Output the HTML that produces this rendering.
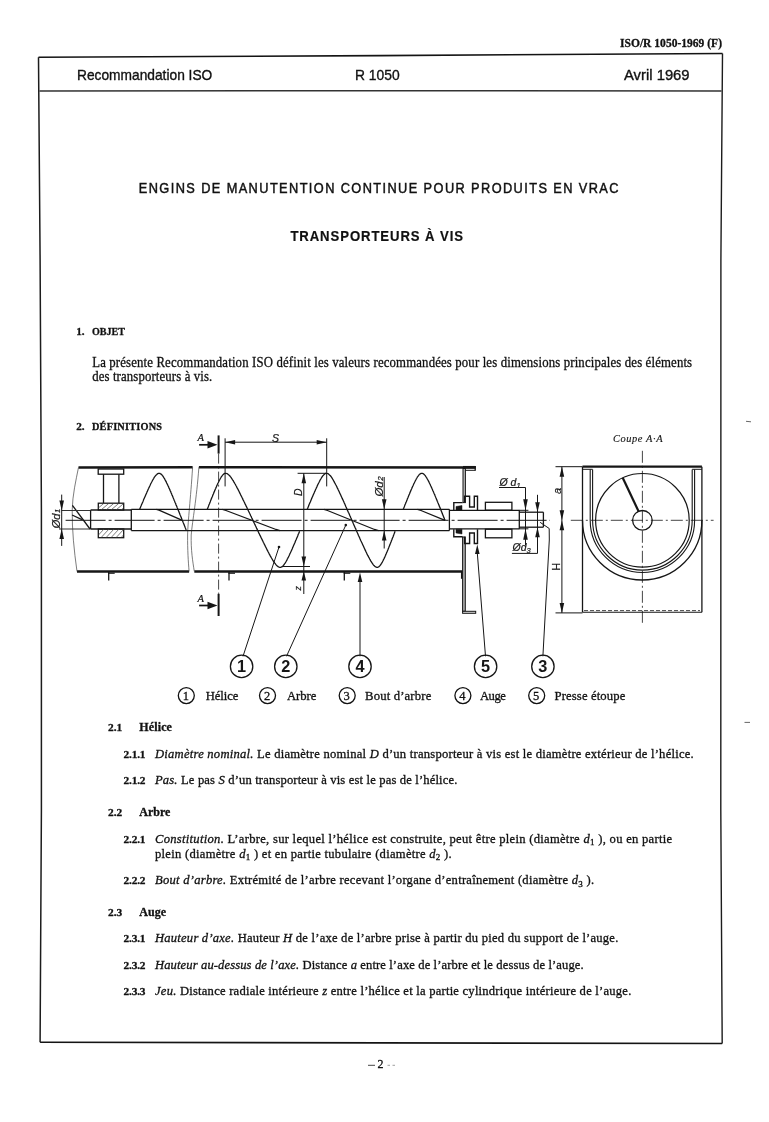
<!DOCTYPE html>
<html><head><meta charset="utf-8"><title>ISO/R 1050-1969</title>
<style>html,body{margin:0;padding:0;background:#fff;width:769px;height:1122px;overflow:hidden}svg{display:block;will-change:transform}</style>
</head><body>
<svg width="769" height="1122" viewBox="0 0 769 1122">
<rect width="769" height="1122" fill="#fff"/>

<polyline points="38.5,57.3 380,55.6 722.5,53.5" fill="none" stroke="#141414" stroke-width="1.6"/>
<polyline points="39.5,91.1 380,90.7 721.5,90.9" fill="none" stroke="#333" stroke-width="1.5"/>
<polyline points="38.5,57.3 40.1,260 41.4,510 41.4,810 40.1,1042.2" fill="none" stroke="#1c1c1c" stroke-width="1.5"/>
<polyline points="722.5,53.5 720.9,260 720.8,810 722.2,1043.5" fill="none" stroke="#1c1c1c" stroke-width="1.4"/>
<polyline points="40.1,1042.2 380,1042.9 722.2,1043.5" fill="none" stroke="#141414" stroke-width="1.6"/>

<text x="620" y="46.8" textLength="102.0" lengthAdjust="spacing" style="font-family:'Liberation Serif',serif;font-size:11.5px;font-weight:bold;font-style:normal" fill="#111" stroke="#111" stroke-width="0.3" >ISO/R 1050-1969 (F)</text>
<text x="77" y="79.7" textLength="135.3" lengthAdjust="spacingAndGlyphs" style="font-family:'Liberation Sans',sans-serif;font-size:14.6px;font-weight:normal;font-style:normal" fill="#111" stroke="#111" stroke-width="0.35" >Recommandation ISO</text>
<text x="355" y="80" textLength="44.6" lengthAdjust="spacingAndGlyphs" style="font-family:'Liberation Sans',sans-serif;font-size:14.6px;font-weight:normal;font-style:normal" fill="#111" stroke="#111" stroke-width="0.35" >R 1050</text>
<text x="624" y="79.5" textLength="65.6" lengthAdjust="spacingAndGlyphs" style="font-family:'Liberation Sans',sans-serif;font-size:14.6px;font-weight:normal;font-style:normal" fill="#111" stroke="#111" stroke-width="0.35" >Avril 1969</text>
<g transform="scale(0.92,1)"><text x="150.8695652173913" y="192.8" textLength="521.4" lengthAdjust="spacing" style="font-family:'Liberation Sans',sans-serif;font-size:13.9px;font-weight:normal;font-style:normal" fill="#111" stroke="#111" stroke-width="0.45" >ENGINS DE MANUTENTION CONTINUE POUR PRODUITS EN VRAC</text>
</g><g transform="scale(0.9,1)"><text x="322.66666666666663" y="240.7" textLength="191.8" lengthAdjust="spacing" style="font-family:'Liberation Sans',sans-serif;font-size:14.6px;font-weight:bold;font-style:normal" fill="#111" stroke="#111" stroke-width="0.2" >TRANSPORTEURS À VIS</text>
</g><text x="76.2" y="334.5" style="font-family:'Liberation Serif',serif;font-size:11.2px;font-weight:bold;font-style:normal" fill="#111" stroke="#111" stroke-width="0.3" >1.</text>
<g transform="scale(0.9,1)"><text x="102.11111111111111" y="335.0" textLength="36.8" lengthAdjust="spacing" style="font-family:'Liberation Serif',serif;font-size:11.2px;font-weight:bold;font-style:normal" fill="#111" stroke="#111" stroke-width="0.3" >OBJET</text>
</g><g transform="scale(0.94,1)"><text x="98.08510638297874" y="366.8" textLength="638.2" lengthAdjust="spacing" style="font-family:'Liberation Serif',serif;font-size:13.6px;font-weight:normal;font-style:normal" fill="#111" stroke="#111" stroke-width="0.3" >La présente Recommandation ISO définit les valeurs recommandées pour les dimensions principales des éléments</text>
</g><g transform="scale(0.94,1)"><text x="98.08510638297874" y="380.7" textLength="127.7" lengthAdjust="spacing" style="font-family:'Liberation Serif',serif;font-size:13.6px;font-weight:normal;font-style:normal" fill="#111" stroke="#111" stroke-width="0.3" >des transporteurs à vis.</text>
</g><text x="76.2" y="429.6" style="font-family:'Liberation Serif',serif;font-size:11.2px;font-weight:bold;font-style:normal" fill="#111" stroke="#111" stroke-width="0.3" >2.</text>
<g transform="scale(0.92,1)"><text x="100.0" y="429.6" textLength="76.1" lengthAdjust="spacing" style="font-family:'Liberation Serif',serif;font-size:11.2px;font-weight:bold;font-style:normal" fill="#111" stroke="#111" stroke-width="0.3" >DÉFINITIONS</text>
</g><text x="108" y="730.6" style="font-family:'Liberation Serif',serif;font-size:11.4px;font-weight:bold;font-style:normal" fill="#111" stroke="#111" stroke-width="0.3" >2.1</text>
<text x="139.3" y="730.6" textLength="32.6" lengthAdjust="spacing" style="font-family:'Liberation Serif',serif;font-size:12px;font-weight:bold;font-style:normal" fill="#111" stroke="#111" stroke-width="0.3" >Hélice</text>
<text x="123.5" y="757.8" textLength="22.0" lengthAdjust="spacing" style="font-family:'Liberation Serif',serif;font-size:11.4px;font-weight:bold;font-style:normal" fill="#111" stroke="#111" stroke-width="0.3" >2.1.1</text>
<text x="155" y="757.8" textLength="538.7" lengthAdjust="spacing" style="font-family:'Liberation Serif',serif;font-size:12.6px;font-weight:normal;font-style:normal" fill="#111" stroke="#111" stroke-width="0.3" ><tspan font-style='italic'>Diamètre nominal.</tspan> Le diamètre nominal <tspan font-style='italic'>D</tspan> d’un transporteur à vis est le diamètre extérieur de l’hélice.</text>
<text x="123.5" y="784.3" textLength="22.0" lengthAdjust="spacing" style="font-family:'Liberation Serif',serif;font-size:11.4px;font-weight:bold;font-style:normal" fill="#111" stroke="#111" stroke-width="0.3" >2.1.2</text>
<text x="155" y="784.3" textLength="302.4" lengthAdjust="spacing" style="font-family:'Liberation Serif',serif;font-size:12.6px;font-weight:normal;font-style:normal" fill="#111" stroke="#111" stroke-width="0.3" ><tspan font-style='italic'>Pas.</tspan> Le pas <tspan font-style='italic'>S</tspan> d’un transporteur à vis est le pas de l’hélice.</text>
<text x="108" y="816.2" style="font-family:'Liberation Serif',serif;font-size:11.4px;font-weight:bold;font-style:normal" fill="#111" stroke="#111" stroke-width="0.3" >2.2</text>
<text x="139.3" y="816.2" style="font-family:'Liberation Serif',serif;font-size:12px;font-weight:bold;font-style:normal" fill="#111" stroke="#111" stroke-width="0.3" >Arbre</text>
<text x="123.5" y="842.8" textLength="22.0" lengthAdjust="spacing" style="font-family:'Liberation Serif',serif;font-size:11.4px;font-weight:bold;font-style:normal" fill="#111" stroke="#111" stroke-width="0.3" >2.2.1</text>
<text x="155" y="842.8" textLength="517.1" lengthAdjust="spacing" style="font-family:'Liberation Serif',serif;font-size:12.6px;font-weight:normal;font-style:normal" fill="#111" stroke="#111" stroke-width="0.3" ><tspan font-style='italic'>Constitution.</tspan> L’arbre, sur lequel l’hélice est construite, peut être plein (diamètre <tspan font-style='italic'>d</tspan><tspan style="font-size:9px" dy="2.5">1</tspan><tspan dy="-2.5"> </tspan>), ou en partie</text>
<text x="155" y="857.8" textLength="296.7" lengthAdjust="spacing" style="font-family:'Liberation Serif',serif;font-size:12.6px;font-weight:normal;font-style:normal" fill="#111" stroke="#111" stroke-width="0.3" >plein (diamètre <tspan font-style='italic'>d</tspan><tspan style="font-size:9px" dy="2.5">1</tspan><tspan dy="-2.5"> </tspan>) et en partie tubulaire (diamètre <tspan font-style='italic'>d</tspan><tspan style="font-size:9px" dy="2.5">2</tspan><tspan dy="-2.5"> </tspan>).</text>
<text x="123.5" y="884.3" textLength="22.0" lengthAdjust="spacing" style="font-family:'Liberation Serif',serif;font-size:11.4px;font-weight:bold;font-style:normal" fill="#111" stroke="#111" stroke-width="0.3" >2.2.2</text>
<text x="155" y="884.3" textLength="439.1" lengthAdjust="spacing" style="font-family:'Liberation Serif',serif;font-size:12.6px;font-weight:normal;font-style:normal" fill="#111" stroke="#111" stroke-width="0.3" ><tspan font-style='italic'>Bout d’arbre.</tspan> Extrémité de l’arbre recevant l’organe d’entraînement (diamètre <tspan font-style='italic'>d</tspan><tspan style="font-size:9px" dy="2.5">3</tspan><tspan dy="-2.5"> </tspan>).</text>
<text x="108" y="915.5" style="font-family:'Liberation Serif',serif;font-size:11.4px;font-weight:bold;font-style:normal" fill="#111" stroke="#111" stroke-width="0.3" >2.3</text>
<text x="139.3" y="915.5" style="font-family:'Liberation Serif',serif;font-size:12px;font-weight:bold;font-style:normal" fill="#111" stroke="#111" stroke-width="0.3" >Auge</text>
<text x="123.5" y="942" textLength="22.0" lengthAdjust="spacing" style="font-family:'Liberation Serif',serif;font-size:11.4px;font-weight:bold;font-style:normal" fill="#111" stroke="#111" stroke-width="0.3" >2.3.1</text>
<text x="155" y="942" textLength="463.3" lengthAdjust="spacing" style="font-family:'Liberation Serif',serif;font-size:12.6px;font-weight:normal;font-style:normal" fill="#111" stroke="#111" stroke-width="0.3" ><tspan font-style='italic'>Hauteur d’axe.</tspan> Hauteur <tspan font-style='italic'>H</tspan> de l’axe de l’arbre prise à partir du pied du support de l’auge.</text>
<text x="123.5" y="968.5" textLength="22.0" lengthAdjust="spacing" style="font-family:'Liberation Serif',serif;font-size:11.4px;font-weight:bold;font-style:normal" fill="#111" stroke="#111" stroke-width="0.3" >2.3.2</text>
<text x="155" y="968.5" textLength="428.7" lengthAdjust="spacing" style="font-family:'Liberation Serif',serif;font-size:12.6px;font-weight:normal;font-style:normal" fill="#111" stroke="#111" stroke-width="0.3" ><tspan font-style='italic'>Hauteur au-dessus de l’axe.</tspan> Distance <tspan font-style='italic'>a</tspan> entre l’axe de l’arbre et le dessus de l’auge.</text>
<text x="123.5" y="995" textLength="22.0" lengthAdjust="spacing" style="font-family:'Liberation Serif',serif;font-size:11.4px;font-weight:bold;font-style:normal" fill="#111" stroke="#111" stroke-width="0.3" >2.3.3</text>
<text x="155" y="995" textLength="476.3" lengthAdjust="spacing" style="font-family:'Liberation Serif',serif;font-size:12.6px;font-weight:normal;font-style:normal" fill="#111" stroke="#111" stroke-width="0.3" ><tspan font-style='italic'>Jeu.</tspan> Distance radiale intérieure <tspan font-style='italic'>z</tspan> entre l’hélice et la partie cylindrique intérieure de l’auge.</text>
<line x1="368" y1="1065.3" x2="375" y2="1065.3" stroke="#333" stroke-width="0.9"/><text x="377.5" y="1068.4" style="font-family:'Liberation Serif',serif;font-size:12px;font-weight:normal;font-style:normal" fill="#111" stroke="#111" stroke-width="0.3" >2</text>
<line x1="387.5" y1="1065.3" x2="390" y2="1065.3" stroke="#888" stroke-width="0.8"/><line x1="392.5" y1="1065.3" x2="395" y2="1065.3" stroke="#888" stroke-width="0.8"/><circle cx="186.3" cy="695.6" r="8.0" fill="none" stroke="#111" stroke-width="1.3"/><text x="182.70000000000002" y="700.3" style="font-family:'Liberation Serif',serif;font-size:12.5px;font-weight:normal;font-style:normal" fill="#111" stroke="#111" stroke-width="0.3" >1</text>
<text x="205.8" y="700.4" textLength="32.5" lengthAdjust="spacing" style="font-family:'Liberation Serif',serif;font-size:12.7px;font-weight:normal;font-style:normal" fill="#111" stroke="#111" stroke-width="0.3" >Hélice</text>
<circle cx="267.5" cy="695.6" r="8.0" fill="none" stroke="#111" stroke-width="1.3"/><text x="263.9" y="700.3" style="font-family:'Liberation Serif',serif;font-size:12.5px;font-weight:normal;font-style:normal" fill="#111" stroke="#111" stroke-width="0.3" >2</text>
<text x="287" y="700.4" textLength="29.3" lengthAdjust="spacing" style="font-family:'Liberation Serif',serif;font-size:12.7px;font-weight:normal;font-style:normal" fill="#111" stroke="#111" stroke-width="0.3" >Arbre</text>
<circle cx="347.2" cy="695.6" r="8.0" fill="none" stroke="#111" stroke-width="1.3"/><text x="343.59999999999997" y="700.3" style="font-family:'Liberation Serif',serif;font-size:12.5px;font-weight:normal;font-style:normal" fill="#111" stroke="#111" stroke-width="0.3" >3</text>
<text x="365" y="700.4" textLength="66.3" lengthAdjust="spacing" style="font-family:'Liberation Serif',serif;font-size:12.7px;font-weight:normal;font-style:normal" fill="#111" stroke="#111" stroke-width="0.3" >Bout d’arbre</text>
<circle cx="462.9" cy="695.6" r="8.0" fill="none" stroke="#111" stroke-width="1.3"/><text x="459.29999999999995" y="700.3" style="font-family:'Liberation Serif',serif;font-size:12.5px;font-weight:normal;font-style:normal" fill="#111" stroke="#111" stroke-width="0.3" >4</text>
<text x="480" y="700.4" textLength="25.8" lengthAdjust="spacing" style="font-family:'Liberation Serif',serif;font-size:12.7px;font-weight:normal;font-style:normal" fill="#111" stroke="#111" stroke-width="0.3" >Auge</text>
<circle cx="536.7" cy="695.6" r="8.0" fill="none" stroke="#111" stroke-width="1.3"/><text x="533.1" y="700.3" style="font-family:'Liberation Serif',serif;font-size:12.5px;font-weight:normal;font-style:normal" fill="#111" stroke="#111" stroke-width="0.3" >5</text>
<text x="554.5" y="700.4" textLength="70.9" lengthAdjust="spacing" style="font-family:'Liberation Serif',serif;font-size:12.7px;font-weight:normal;font-style:normal" fill="#111" stroke="#111" stroke-width="0.3" >Presse étoupe</text>

<line x1="78.5" y1="467.4" x2="192.6" y2="467.2" stroke="#161616" stroke-width="2.5" stroke-linecap="butt"/>
<line x1="198.9" y1="467.2" x2="475.6" y2="467.4" stroke="#161616" stroke-width="2.5" stroke-linecap="butt"/>
<line x1="77.0" y1="571.5" x2="189.1" y2="571.4" stroke="#161616" stroke-width="2.5" stroke-linecap="butt"/>
<line x1="194.3" y1="571.4" x2="462.5" y2="571.6" stroke="#161616" stroke-width="2.5" stroke-linecap="butt"/>
<path d="M78.5,467.4 C76,480 72.5,495 72.2,510 C72,530 74,550 77,571.5" stroke="#444" stroke-width="0.7" fill="none" />
<path d="M192.6,467.2 C190.5,500 188,520 187.6,535 C187.5,550 188.3,562 189.1,571.4" stroke="#444" stroke-width="0.7" fill="none" />
<path d="M198.9,467.2 C196.5,500 192.5,520 191.2,535 C190.8,550 192.8,562 194.3,571.4" stroke="#444" stroke-width="0.7" fill="none" />
<line x1="108.7" y1="572.0" x2="108.7" y2="580.5" stroke="#161616" stroke-width="1.3" stroke-linecap="butt"/>
<line x1="108.1" y1="573.2" x2="114.7" y2="573.2" stroke="#161616" stroke-width="1.2" stroke-linecap="butt"/>
<line x1="229.0" y1="572.0" x2="229.0" y2="580.5" stroke="#161616" stroke-width="1.3" stroke-linecap="butt"/>
<line x1="228.4" y1="573.2" x2="235.0" y2="573.2" stroke="#161616" stroke-width="1.2" stroke-linecap="butt"/>
<line x1="344.3" y1="572.0" x2="344.3" y2="580.5" stroke="#161616" stroke-width="1.3" stroke-linecap="butt"/>
<line x1="343.7" y1="573.2" x2="350.3" y2="573.2" stroke="#161616" stroke-width="1.2" stroke-linecap="butt"/>
<rect x="463.0" y="468.5" width="2.4" height="34.1" stroke="#161616" stroke-width="1.0" fill="#bbb"/>
<line x1="463.0" y1="467.2" x2="475.6" y2="467.2" stroke="#161616" stroke-width="2.5" stroke-linecap="butt"/>
<line x1="475.2" y1="466.0" x2="475.2" y2="470.5" stroke="#161616" stroke-width="1.3" stroke-linecap="butt"/>
<line x1="465.4" y1="470.3" x2="475.6" y2="470.3" stroke="#161616" stroke-width="1.0" stroke-linecap="butt"/>
<rect x="462.6" y="537.0" width="2.7" height="74.3" stroke="#161616" stroke-width="1.0" fill="#aaa"/>
<rect x="462.6" y="611.3" width="13.1" height="2.0" stroke="#161616" stroke-width="1.0" fill="#ddd"/>
<line x1="461.6" y1="571.6" x2="461.6" y2="578.8" stroke="#161616" stroke-width="1.3" stroke-linecap="butt"/>
<line x1="90.6" y1="510.0" x2="131.3" y2="510.0" stroke="#161616" stroke-width="1.3" stroke-linecap="butt"/>
<line x1="90.6" y1="529.0" x2="131.3" y2="529.0" stroke="#161616" stroke-width="1.3" stroke-linecap="butt"/>
<line x1="90.6" y1="510.0" x2="90.6" y2="529.0" stroke="#161616" stroke-width="1.3" stroke-linecap="butt"/>
<line x1="72.4" y1="505.3" x2="90.0" y2="529.0" stroke="#161616" stroke-width="1.3" stroke-linecap="butt"/>
<line x1="72.1" y1="515.0" x2="81.9" y2="519.6" stroke="#161616" stroke-width="1.3" stroke-linecap="butt"/>
<line x1="72.0" y1="510.5" x2="90.6" y2="510.5" stroke="#333" stroke-width="1.0" stroke-linecap="butt"/>
<line x1="59.0" y1="529.0" x2="90.6" y2="529.0" stroke="#333" stroke-width="1.0" stroke-linecap="butt"/>
<line x1="61.7" y1="510.5" x2="72.0" y2="510.5" stroke="#333" stroke-width="1.0" stroke-linecap="butt"/>
<line x1="131.3" y1="509.3" x2="449.4" y2="509.3" stroke="#161616" stroke-width="1.3" stroke-linecap="butt"/>
<line x1="131.3" y1="530.6" x2="449.4" y2="530.6" stroke="#161616" stroke-width="1.3" stroke-linecap="butt"/>
<line x1="131.3" y1="509.3" x2="131.3" y2="530.6" stroke="#161616" stroke-width="1.3" stroke-linecap="butt"/>
<line x1="449.4" y1="509.3" x2="449.4" y2="530.6" stroke="#161616" stroke-width="1.3" stroke-linecap="butt"/>
<line x1="449.4" y1="510.3" x2="519.3" y2="510.3" stroke="#161616" stroke-width="1.3" stroke-linecap="butt"/>
<line x1="449.4" y1="528.8" x2="519.3" y2="528.8" stroke="#161616" stroke-width="1.3" stroke-linecap="butt"/>
<line x1="519.3" y1="510.3" x2="519.3" y2="528.8" stroke="#161616" stroke-width="1.3" stroke-linecap="butt"/>
<line x1="519.3" y1="512.2" x2="543.4" y2="512.2" stroke="#161616" stroke-width="1.3" stroke-linecap="butt"/>
<line x1="519.3" y1="527.2" x2="543.4" y2="527.2" stroke="#161616" stroke-width="1.3" stroke-linecap="butt"/>
<line x1="543.4" y1="512.2" x2="543.4" y2="527.2" stroke="#161616" stroke-width="1.3" stroke-linecap="butt"/>
<line x1="65.6" y1="520.3" x2="550.0" y2="520.3" stroke="#161616" stroke-width="1.0" stroke-dasharray="40,3,3,3" stroke-linecap="butt"/>
<rect x="98.2" y="469.0" width="25.5" height="5.2" stroke="#161616" stroke-width="1.3" fill="none"/>
<line x1="103.5" y1="474.2" x2="103.5" y2="503.2" stroke="#161616" stroke-width="1.3" stroke-linecap="butt"/>
<line x1="118.9" y1="474.2" x2="118.9" y2="503.2" stroke="#161616" stroke-width="1.3" stroke-linecap="butt"/>
<clipPath id="hb1"><rect x="98.3" y="503.2" width="25.4" height="6.8"/></clipPath>
<clipPath id="hb2"><rect x="98.3" y="529" width="25.4" height="8.7"/></clipPath>
<rect x="98.3" y="503.2" width="25.4" height="6.8" stroke="#161616" stroke-width="1.3" fill="none"/>
<g clip-path="url(#hb1)"><line x1="96.0" y1="510.0" x2="104.0" y2="503.2" stroke="#444" stroke-width="0.7"/><line x1="101.0" y1="510.0" x2="109.0" y2="503.2" stroke="#444" stroke-width="0.7"/><line x1="106.0" y1="510.0" x2="114.0" y2="503.2" stroke="#444" stroke-width="0.7"/><line x1="111.0" y1="510.0" x2="119.0" y2="503.2" stroke="#444" stroke-width="0.7"/><line x1="116.0" y1="510.0" x2="124.0" y2="503.2" stroke="#444" stroke-width="0.7"/><line x1="121.0" y1="510.0" x2="129.0" y2="503.2" stroke="#444" stroke-width="0.7"/><line x1="126.0" y1="510.0" x2="134.0" y2="503.2" stroke="#444" stroke-width="0.7"/></g>
<rect x="98.3" y="529.0" width="25.4" height="8.7" stroke="#161616" stroke-width="1.3" fill="none"/>
<g clip-path="url(#hb2)"><line x1="96.0" y1="537.7" x2="104.0" y2="529.0" stroke="#444" stroke-width="0.7"/><line x1="101.0" y1="537.7" x2="109.0" y2="529.0" stroke="#444" stroke-width="0.7"/><line x1="106.0" y1="537.7" x2="114.0" y2="529.0" stroke="#444" stroke-width="0.7"/><line x1="111.0" y1="537.7" x2="119.0" y2="529.0" stroke="#444" stroke-width="0.7"/><line x1="116.0" y1="537.7" x2="124.0" y2="529.0" stroke="#444" stroke-width="0.7"/><line x1="121.0" y1="537.7" x2="129.0" y2="529.0" stroke="#444" stroke-width="0.7"/><line x1="126.0" y1="537.7" x2="134.0" y2="529.0" stroke="#444" stroke-width="0.7"/></g>
<rect x="485.4" y="502.3" width="26.5" height="7.9" stroke="#161616" stroke-width="1.3" fill="none"/>
<rect x="485.4" y="529.2" width="26.5" height="8.6" stroke="#161616" stroke-width="1.3" fill="none"/>
<polyline points="453.8,510.2 453.8,502.6 462.6,502.6" stroke="#161616" stroke-width="1.4" fill="none" stroke-linejoin="miter"/>
<polyline points="464.6,502.6 464.6,496.3 469.6,496.3 469.6,507.0 474.3,507.0 474.3,496.3 477.5,496.3 477.5,510.2" stroke="#161616" stroke-width="1.4" fill="none" stroke-linejoin="miter"/>
<polygon points="456.0,506.5 462.0,505.5 462.0,510.0 456.0,510.0" stroke="#161616" stroke-width="0.5" fill="#161616" stroke-linejoin="miter"/>
<polyline points="453.8,529.2 453.8,536.8 462.6,536.8" stroke="#161616" stroke-width="1.4" fill="none" stroke-linejoin="miter"/>
<polyline points="464.6,536.8 464.6,543.5 469.6,543.5 469.6,533.0 474.3,533.0 474.3,543.5 477.5,543.5 477.5,529.2" stroke="#161616" stroke-width="1.4" fill="none" stroke-linejoin="miter"/>
<polygon points="456.0,529.2 462.0,529.2 462.0,534.0 456.0,533.0" stroke="#161616" stroke-width="0.5" fill="#161616" stroke-linejoin="miter"/>
<path d="M139.7,509.3 L140.0,508.4 L140.4,507.4 L140.8,506.5 L141.2,505.6 L141.6,504.6 L142.0,503.7 L142.4,502.8 L142.8,501.9 L143.2,500.9 L143.5,500.0 L143.9,499.1 L144.3,498.2 L144.7,497.3 L145.1,496.4 L145.5,495.5 L145.9,494.6 L146.3,493.7 L146.7,492.8 L147.0,491.9 L147.4,491.1 L147.8,490.2 L148.2,489.3 L148.6,488.5 L149.0,487.6 L149.4,486.8 L149.8,486.0 L150.2,485.1 L150.5,484.3 L150.9,483.5 L151.3,482.8 L151.7,482.0 L152.1,481.3 L152.5,480.5 L152.9,479.8 L153.3,479.1 L153.7,478.5 L154.0,477.8 L154.4,477.2 L154.8,476.7 L155.2,476.1 L155.6,475.6 L156.0,475.2 L156.4,474.7 L156.8,474.4 L157.2,474.0 L157.5,473.8 L157.9,473.6 L158.3,473.4 L158.7,473.3 L159.1,473.3 L159.4,473.3 L159.6,473.4 L159.9,473.4 L160.2,473.6 L160.5,473.7 L160.7,473.9 L161.0,474.1 L161.3,474.3 L161.6,474.6 L161.8,474.8 L162.1,475.1 L162.4,475.5 L162.7,475.8 L162.9,476.2 L163.2,476.6 L163.5,477.0 L163.7,477.4 L164.0,477.9 L164.3,478.3 L164.6,478.8 L164.8,479.3 L165.1,479.8 L165.4,480.3 L165.7,480.8 L165.9,481.4 L166.2,481.9 L166.5,482.5 L166.7,483.0 L167.0,483.6 L167.3,484.2 L167.6,484.8 L167.8,485.3 L168.1,485.9 L168.4,486.5 L168.7,487.1 L168.9,487.8 L169.2,488.4 L169.5,489.0 L169.8,489.6 L170.0,490.2 L170.3,490.9 L170.6,491.5 L170.8,492.1 L171.1,492.8 L171.4,493.4 L171.7,494.1 L171.9,494.7 L172.2,495.4 L172.5,496.0 L172.8,496.7 L173.0,497.3 L173.3,498.0 L173.6,498.7 L173.9,499.3 L174.1,500.0 L174.4,500.7 L174.7,501.3 L174.9,502.0 L175.2,502.7 L175.5,503.3 L175.8,504.0 L176.0,504.7 L176.3,505.4 L176.6,506.0 L176.9,506.7 L177.1,507.4 L177.4,508.1 L177.7,508.7 L177.9,509.4 L178.2,510.1 L178.5,510.8 L178.8,511.5 L179.0,512.1 L179.3,512.8 L179.6,513.5 L179.9,514.2 L180.1,514.9 L180.4,515.6 L180.7,516.2 L181.0,516.9 L181.2,517.6 L181.5,518.3 L181.8,519.0 L182.0,519.7 L182.3,520.4 L182.6,521.0 L182.9,521.7 L183.1,522.4 L183.4,523.1 L183.7,523.8 L184.0,524.5 L184.2,525.1 L184.5,525.8 L184.8,526.5 L185.1,527.2 L185.3,527.9 L185.6,528.6 L185.9,529.2 L186.1,529.9 L186.4,530.6" stroke="#161616" stroke-width="1.3" fill="none" />
<path d="M156.4,509.3 L159,510.2 L182.3,520.3" stroke="#161616" stroke-width="1.3" fill="none" />
<path d="M207.3,509.3 L207.6,508.4 L208.0,507.4 L208.4,506.5 L208.7,505.6 L209.1,504.6 L209.5,503.7 L209.8,502.8 L210.2,501.9 L210.5,500.9 L210.9,500.0 L211.3,499.1 L211.6,498.2 L212.0,497.3 L212.4,496.4 L212.7,495.5 L213.1,494.6 L213.5,493.7 L213.8,492.8 L214.2,491.9 L214.6,491.1 L214.9,490.2 L215.3,489.3 L215.7,488.5 L216.0,487.6 L216.4,486.8 L216.7,486.0 L217.1,485.1 L217.5,484.3 L217.8,483.5 L218.2,482.8 L218.6,482.0 L218.9,481.3 L219.3,480.5 L219.7,479.8 L220.0,479.1 L220.4,478.5 L220.8,477.8 L221.1,477.2 L221.5,476.7 L221.9,476.1 L222.2,475.6 L222.6,475.2 L222.9,474.7 L223.3,474.4 L223.7,474.0 L224.0,473.8 L224.4,473.6 L224.8,473.4 L225.1,473.3 L225.5,473.3 L226.0,473.3 L226.6,473.5 L227.1,473.7 L227.7,474.0 L228.2,474.4 L228.8,474.9 L229.3,475.4 L229.9,476.0 L230.4,476.7 L231.0,477.4 L231.5,478.2 L232.1,479.0 L232.6,479.8 L233.2,480.7 L233.7,481.6 L234.3,482.6 L234.8,483.5 L235.4,484.5 L235.9,485.5 L236.5,486.5 L237.0,487.6 L237.6,488.6 L238.1,489.7 L238.7,490.7 L239.2,491.8 L239.7,492.9 L240.3,494.0 L240.8,495.1 L241.4,496.2 L241.9,497.3 L242.5,498.4 L243.0,499.6 L243.6,500.7 L244.1,501.8 L244.7,503.0 L245.2,504.1 L245.8,505.2 L246.3,506.4 L246.9,507.5 L247.4,508.7 L248.0,509.9 L248.5,511.0 L249.1,512.2 L249.6,513.3 L250.2,514.5 L250.7,515.7 L251.3,516.8 L251.8,518.0 L252.4,519.1 L252.9,520.3 L253.4,521.5 L254.0,522.6 L254.5,523.8 L255.1,524.9 L255.6,526.1 L256.2,527.3 L256.7,528.4 L257.3,529.6 L257.8,530.7 L258.4,531.9 L258.9,533.1 L259.5,534.2 L260.0,535.4 L260.6,536.5 L261.1,537.6 L261.7,538.8 L262.2,539.9 L262.8,541.0 L263.3,542.2 L263.9,543.3 L264.4,544.4 L265.0,545.5 L265.5,546.6 L266.1,547.7 L266.6,548.8 L267.1,549.9 L267.7,550.9 L268.2,552.0 L268.8,553.0 L269.3,554.1 L269.9,555.1 L270.4,556.1 L271.0,557.1 L271.5,558.0 L272.1,559.0 L272.6,559.9 L273.2,560.8 L273.7,561.6 L274.3,562.4 L274.8,563.2 L275.4,563.9 L275.9,564.6 L276.5,565.2 L277.0,565.7 L277.6,566.2 L278.1,566.6 L278.7,566.9 L279.2,567.1 L279.8,567.3 L280.3,567.3 L280.7,567.3 L281.1,567.2 L281.5,567.0 L281.8,566.8 L282.2,566.6 L282.6,566.2 L283.0,565.9 L283.4,565.4 L283.8,565.0 L284.2,564.5 L284.5,563.9 L284.9,563.4 L285.3,562.8 L285.7,562.1 L286.1,561.5 L286.5,560.8 L286.9,560.1 L287.2,559.3 L287.6,558.6 L288.0,557.8 L288.4,557.1 L288.8,556.3 L289.2,555.5 L289.6,554.6 L289.9,553.8 L290.3,553.0 L290.7,552.1 L291.1,551.3 L291.5,550.4 L291.9,549.5 L292.3,548.7 L292.6,547.8 L293.0,546.9 L293.4,546.0 L293.8,545.1 L294.2,544.2 L294.6,543.3 L295.0,542.4 L295.3,541.5 L295.7,540.6 L296.1,539.7 L296.5,538.7 L296.9,537.8 L297.3,536.9 L297.7,536.0 L298.0,535.0 L298.4,534.1 L298.8,533.2 L299.2,532.2 L299.6,531.3" stroke="#161616" stroke-width="1.3" fill="none" />
<path d="M222.5,509.3 L226,510.5 L276,529.5 L280,530.6" stroke="#161616" stroke-width="1.3" fill="none" />
<path d="M307.2,509.3 L307.6,508.4 L308.0,507.4 L308.4,506.5 L308.8,505.6 L309.1,504.6 L309.5,503.7 L309.9,502.8 L310.3,501.9 L310.7,500.9 L311.1,500.0 L311.5,499.1 L311.8,498.2 L312.2,497.3 L312.6,496.4 L313.0,495.5 L313.4,494.6 L313.8,493.7 L314.2,492.8 L314.5,491.9 L314.9,491.1 L315.3,490.2 L315.7,489.3 L316.1,488.5 L316.5,487.6 L316.9,486.8 L317.2,486.0 L317.6,485.1 L318.0,484.3 L318.4,483.5 L318.8,482.8 L319.2,482.0 L319.6,481.3 L319.9,480.5 L320.3,479.8 L320.7,479.1 L321.1,478.5 L321.5,477.8 L321.9,477.2 L322.3,476.7 L322.6,476.1 L323.0,475.6 L323.4,475.2 L323.8,474.7 L324.2,474.4 L324.6,474.0 L325.0,473.8 L325.3,473.6 L325.7,473.4 L326.1,473.3 L326.5,473.3 L327.0,473.3 L327.5,473.5 L328.0,473.7 L328.5,474.0 L329.0,474.4 L329.5,474.9 L330.1,475.4 L330.6,476.0 L331.1,476.7 L331.6,477.4 L332.1,478.2 L332.6,479.0 L333.1,479.8 L333.6,480.7 L334.1,481.6 L334.6,482.6 L335.1,483.5 L335.6,484.5 L336.2,485.5 L336.7,486.5 L337.2,487.6 L337.7,488.6 L338.2,489.7 L338.7,490.7 L339.2,491.8 L339.7,492.9 L340.2,494.0 L340.7,495.1 L341.2,496.2 L341.7,497.3 L342.2,498.4 L342.8,499.6 L343.3,500.7 L343.8,501.8 L344.3,503.0 L344.8,504.1 L345.3,505.2 L345.8,506.4 L346.3,507.5 L346.8,508.7 L347.3,509.9 L347.8,511.0 L348.3,512.2 L348.9,513.3 L349.4,514.5 L349.9,515.7 L350.4,516.8 L350.9,518.0 L351.4,519.1 L351.9,520.3 L352.4,521.5 L352.9,522.6 L353.4,523.8 L353.9,524.9 L354.4,526.1 L354.9,527.3 L355.5,528.4 L356.0,529.6 L356.5,530.7 L357.0,531.9 L357.5,533.1 L358.0,534.2 L358.5,535.4 L359.0,536.5 L359.5,537.6 L360.0,538.8 L360.5,539.9 L361.0,541.0 L361.6,542.2 L362.1,543.3 L362.6,544.4 L363.1,545.5 L363.6,546.6 L364.1,547.7 L364.6,548.8 L365.1,549.9 L365.6,550.9 L366.1,552.0 L366.6,553.0 L367.1,554.1 L367.6,555.1 L368.2,556.1 L368.7,557.1 L369.2,558.0 L369.7,559.0 L370.2,559.9 L370.7,560.8 L371.2,561.6 L371.7,562.4 L372.2,563.2 L372.7,563.9 L373.2,564.6 L373.7,565.2 L374.3,565.7 L374.8,566.2 L375.3,566.6 L375.8,566.9 L376.3,567.1 L376.8,567.3 L377.3,567.3 L377.7,567.3 L378.0,567.2 L378.4,567.0 L378.7,566.8 L379.1,566.6 L379.4,566.2 L379.8,565.9 L380.1,565.4 L380.5,565.0 L380.9,564.5 L381.2,563.9 L381.6,563.4 L381.9,562.8 L382.3,562.1 L382.6,561.5 L383.0,560.8 L383.3,560.1 L383.7,559.3 L384.1,558.6 L384.4,557.8 L384.8,557.1 L385.1,556.3 L385.5,555.5 L385.8,554.6 L386.2,553.8 L386.5,553.0 L386.9,552.1 L387.3,551.3 L387.6,550.4 L388.0,549.5 L388.3,548.7 L388.7,547.8 L389.0,546.9 L389.4,546.0 L389.8,545.1 L390.1,544.2 L390.5,543.3 L390.8,542.4 L391.2,541.5 L391.5,540.6 L391.9,539.7 L392.2,538.7 L392.6,537.8 L393.0,536.9 L393.3,536.0 L393.7,535.0 L394.0,534.1 L394.4,533.2 L394.7,532.2 L395.1,531.3" stroke="#161616" stroke-width="1.3" fill="none" />
<path d="M324,509.3 L327.5,510.5 L374.5,529.5 L378.5,530.6" stroke="#161616" stroke-width="1.3" fill="none" />
<path d="M403.2,509.3 L403.6,508.4 L404.0,507.4 L404.4,506.5 L404.7,505.6 L405.1,504.6 L405.5,503.7 L405.8,502.8 L406.2,501.9 L406.6,500.9 L407.0,500.0 L407.3,499.1 L407.7,498.2 L408.1,497.3 L408.4,496.4 L408.8,495.5 L409.2,494.6 L409.6,493.7 L409.9,492.8 L410.3,491.9 L410.7,491.1 L411.0,490.2 L411.4,489.3 L411.8,488.5 L412.1,487.6 L412.5,486.8 L412.9,486.0 L413.3,485.1 L413.6,484.3 L414.0,483.5 L414.4,482.8 L414.7,482.0 L415.1,481.3 L415.5,480.5 L415.9,479.8 L416.2,479.1 L416.6,478.5 L417.0,477.8 L417.3,477.2 L417.7,476.7 L418.1,476.1 L418.5,475.6 L418.8,475.2 L419.2,474.7 L419.6,474.4 L419.9,474.0 L420.3,473.8 L420.7,473.6 L421.1,473.4 L421.4,473.3 L421.8,473.3 L422.0,473.3 L422.3,473.3 L422.5,473.4 L422.7,473.5 L423.0,473.6 L423.2,473.7 L423.4,473.9 L423.7,474.0 L423.9,474.2 L424.1,474.4 L424.4,474.7 L424.6,474.9 L424.8,475.2 L425.0,475.4 L425.3,475.7 L425.5,476.0 L425.7,476.4 L426.0,476.7 L426.2,477.1 L426.4,477.4 L426.7,477.8 L426.9,478.2 L427.1,478.6 L427.4,479.0 L427.6,479.4 L427.8,479.8 L428.1,480.3 L428.3,480.7 L428.5,481.2 L428.8,481.6 L429.0,482.1 L429.2,482.6 L429.5,483.0 L429.7,483.5 L429.9,484.0 L430.2,484.5 L430.4,485.0 L430.6,485.5 L430.8,486.0 L431.1,486.5 L431.3,487.0 L431.5,487.6 L431.8,488.1 L432.0,488.6 L432.2,489.1 L432.5,489.7 L432.7,490.2 L432.9,490.7 L433.2,491.3 L433.4,491.8 L433.6,492.3 L433.9,492.9 L434.1,493.4 L434.3,494.0 L434.6,494.5 L434.8,495.1 L435.0,495.6 L435.3,496.2 L435.5,496.8 L435.7,497.3 L436.0,497.9 L436.2,498.4 L436.4,499.0 L436.6,499.6 L436.9,500.1 L437.1,500.7 L437.3,501.3 L437.6,501.8 L437.8,502.4 L438.0,503.0 L438.3,503.5 L438.5,504.1 L438.7,504.7 L439.0,505.2 L439.2,505.8 L439.4,506.4 L439.7,507.0 L439.9,507.5 L440.1,508.1 L440.4,508.7 L440.6,509.3 L440.8,509.9 L441.1,510.4 L441.3,511.0 L441.5,511.6 L441.8,512.2 L442.0,512.7 L442.2,513.3 L442.4,513.9 L442.7,514.5 L442.9,515.1 L443.1,515.7 L443.4,516.2 L443.6,516.8 L443.8,517.4 L444.1,518.0 L444.3,518.6 L444.5,519.1 L444.8,519.7 L445.0,520.3" stroke="#161616" stroke-width="1.3" fill="none" />
<path d="M417.5,509.3 L421,510.5 L445,520.3" stroke="#161616" stroke-width="1.3" fill="none" />
<line x1="218.6" y1="453.6" x2="218.6" y2="593.8" stroke="#161616" stroke-width="0.8" stroke-dasharray="10,3,2,3" stroke-linecap="butt"/>
<line x1="218.6" y1="435.4" x2="218.6" y2="453.6" stroke="#161616" stroke-width="2.0" stroke-linecap="butt"/>
<line x1="218.6" y1="593.8" x2="218.6" y2="616.0" stroke="#161616" stroke-width="2.0" stroke-linecap="butt"/>
<line x1="199.1" y1="444.8" x2="210.0" y2="444.8" stroke="#161616" stroke-width="1.7" stroke-linecap="butt"/>
<polygon points="217.5,444.8 207.5,448.6 207.5,441.0" fill="#161616"/>
<line x1="199.1" y1="605.5" x2="210.0" y2="605.5" stroke="#161616" stroke-width="1.7" stroke-linecap="butt"/>
<polygon points="217.5,605.5 207.5,609.3 207.5,601.7" fill="#161616"/>
<text x="197.5" y="440.8" style="font-family:'Liberation Serif';font-size:10.5px;font-style:italic;font-weight:normal" fill="#161616" stroke="#161616" stroke-width="0.2">A</text>
<text x="197.5" y="601.5" style="font-family:'Liberation Serif';font-size:10.5px;font-style:italic;font-weight:normal" fill="#161616" stroke="#161616" stroke-width="0.2">A</text>
<line x1="225.1" y1="438.3" x2="225.1" y2="486.4" stroke="#161616" stroke-width="1.0" stroke-linecap="butt"/>
<line x1="326.7" y1="438.3" x2="326.7" y2="486.4" stroke="#161616" stroke-width="1.0" stroke-linecap="butt"/>
<line x1="225.1" y1="442.2" x2="326.7" y2="442.2" stroke="#161616" stroke-width="1.0" stroke-linecap="butt"/>
<polygon points="225.1,442.2 235.1,439.9 235.1,444.5" fill="#161616"/>
<polygon points="326.7,442.2 316.7,444.5 316.7,439.9" fill="#161616"/>
<text x="272" y="441.7" style="font-family:'Liberation Sans';font-size:10.5px;font-style:italic;font-weight:normal" fill="#161616" stroke="#161616" stroke-width="0.2">S</text>
<line x1="297.6" y1="473.3" x2="326.0" y2="473.3" stroke="#161616" stroke-width="1.0" stroke-linecap="butt"/>
<line x1="282.0" y1="566.5" x2="310.0" y2="566.5" stroke="#161616" stroke-width="1.0" stroke-linecap="butt"/>
<line x1="303.8" y1="473.3" x2="303.8" y2="594.0" stroke="#161616" stroke-width="1.0" stroke-linecap="butt"/>
<polygon points="303.8,473.3 306.1,483.3 301.5,483.3" fill="#161616"/>
<polygon points="303.8,566.5 301.5,556.5 306.1,556.5" fill="#161616"/>
<polygon points="303.8,571.5 306.1,580.5 301.5,580.5" fill="#161616"/>
<text x="301.8" y="496" transform="rotate(-90 301.8 496)" style="font-family:'Liberation Sans';font-size:10.5px;font-style:italic;font-weight:normal" fill="#161616" stroke="#161616" stroke-width="0.2">D</text>
<text x="301.3" y="590.5" transform="rotate(-90 301.3 590.5)" style="font-family:'Liberation Sans';font-size:9px;font-style:italic;font-weight:normal" fill="#161616" stroke="#161616" stroke-width="0.2">z</text>
<line x1="384.2" y1="477.0" x2="384.2" y2="548.5" stroke="#161616" stroke-width="1.0" stroke-linecap="butt"/>
<polygon points="384.2,509.3 381.9,499.3 386.5,499.3" fill="#161616"/>
<polygon points="384.2,530.6 386.5,540.6 381.9,540.6" fill="#161616"/>
<text x="382.6" y="496.6" transform="rotate(-90 382.6 496.6)" style="font-family:'Liberation Sans';font-size:11.5px;font-style:italic;font-weight:normal" fill="#161616" stroke="#161616" stroke-width="0.2">Ød<tspan font-size='8' dx='0.5' dy='0'>2</tspan></text>
<line x1="61.7" y1="494.6" x2="61.7" y2="545.9" stroke="#161616" stroke-width="1.0" stroke-linecap="butt"/>
<polygon points="61.7,510.5 59.4,500.5 64.0,500.5" fill="#161616"/>
<polygon points="61.7,529.0 64.0,539.0 59.4,539.0" fill="#161616"/>
<text x="60.2" y="528.2" transform="rotate(-90 60.2 528.2)" style="font-family:'Liberation Sans';font-size:11px;font-style:italic;font-weight:normal" fill="#161616" stroke="#161616" stroke-width="0.2">Ød<tspan font-size='7.5' dx='0.5' dy='0'>1</tspan></text>
<line x1="499.0" y1="487.5" x2="525.5" y2="487.5" stroke="#161616" stroke-width="1.0" stroke-linecap="butt"/>
<line x1="525.5" y1="487.5" x2="525.5" y2="545.0" stroke="#161616" stroke-width="1.0" stroke-linecap="butt"/>
<line x1="518.9" y1="510.3" x2="528.4" y2="510.3" stroke="#161616" stroke-width="1.0" stroke-linecap="butt"/>
<line x1="518.9" y1="528.8" x2="528.4" y2="528.8" stroke="#161616" stroke-width="1.0" stroke-linecap="butt"/>
<polygon points="525.5,510.3 523.2,499.3 527.8,499.3" fill="#161616"/>
<polygon points="525.5,528.8 527.8,539.8 523.2,539.8" fill="#161616"/>
<text x="499.5" y="485.5" style="font-family:'Liberation Sans';font-size:10.5px;font-style:italic;font-weight:normal" fill="#161616" stroke="#161616" stroke-width="0.2">Ø d<tspan font-size='7.5' dy='2'>1</tspan></text>
<line x1="537.5" y1="494.8" x2="537.5" y2="553.4" stroke="#161616" stroke-width="1.0" stroke-linecap="butt"/>
<line x1="511.9" y1="553.4" x2="537.5" y2="553.4" stroke="#161616" stroke-width="1.0" stroke-linecap="butt"/>
<polygon points="537.5,512.2 535.2,502.2 539.8,502.2" fill="#161616"/>
<polygon points="537.5,527.2 539.8,537.2 535.2,537.2" fill="#161616"/>
<text x="512.5" y="551.2" style="font-family:'Liberation Sans';font-size:10.5px;font-style:italic;font-weight:normal" fill="#161616" stroke="#161616" stroke-width="0.2">Ød<tspan font-size='7.5' dy='2'>3</tspan></text>
<circle cx="241.6" cy="666.4" r="11.2" fill="none" stroke="#161616" stroke-width="1.3"/>
<text x="237.0" y="672.3" style="font-family:'Liberation Sans';font-size:16.3px;font-style:normal;font-weight:bold" fill="#161616" stroke="#161616" stroke-width="0">1</text>
<circle cx="285.8" cy="666.4" r="11.2" fill="none" stroke="#161616" stroke-width="1.3"/>
<text x="281.2" y="672.3" style="font-family:'Liberation Sans';font-size:16.3px;font-style:normal;font-weight:bold" fill="#161616" stroke="#161616" stroke-width="0">2</text>
<circle cx="360" cy="666.4" r="11.2" fill="none" stroke="#161616" stroke-width="1.3"/>
<text x="355.4" y="672.3" style="font-family:'Liberation Sans';font-size:16.3px;font-style:normal;font-weight:bold" fill="#161616" stroke="#161616" stroke-width="0">4</text>
<circle cx="485.6" cy="666.4" r="11.2" fill="none" stroke="#161616" stroke-width="1.3"/>
<text x="481.0" y="672.3" style="font-family:'Liberation Sans';font-size:16.3px;font-style:normal;font-weight:bold" fill="#161616" stroke="#161616" stroke-width="0">5</text>
<circle cx="542.9" cy="666.4" r="11.2" fill="none" stroke="#161616" stroke-width="1.3"/>
<text x="538.3" y="672.3" style="font-family:'Liberation Sans';font-size:16.3px;font-style:normal;font-weight:bold" fill="#161616" stroke="#161616" stroke-width="0">3</text>
<line x1="279.0" y1="547.0" x2="243.0" y2="656.3" stroke="#161616" stroke-width="1.0" stroke-linecap="butt"/>
<circle cx="279" cy="547" r="1.3" fill="#161616"/>
<line x1="345.8" y1="525.1" x2="286.5" y2="656.3" stroke="#161616" stroke-width="1.0" stroke-linecap="butt"/>
<circle cx="345.8" cy="525.1" r="1.3" fill="#161616"/>
<line x1="360.0" y1="580.0" x2="360.0" y2="656.3" stroke="#161616" stroke-width="1.0" stroke-linecap="butt"/>
<polygon points="360.0,572.5 362.3,582.0 357.7,582.0" fill="#161616"/>
<line x1="477.3" y1="553.0" x2="485.5" y2="656.3" stroke="#161616" stroke-width="1.0" stroke-linecap="butt"/>
<polygon points="477.3,544.5 479.6,554.0 475.0,554.0" fill="#161616"/>
<polyline points="540.1,522.3 549.2,528.5 549.3,540.0 542.9,656.3" stroke="#161616" stroke-width="1.0" fill="none" stroke-linejoin="miter"/>
<line x1="582.5" y1="466.7" x2="701.9" y2="466.7" stroke="#161616" stroke-width="2.3" stroke-linecap="butt"/>
<line x1="582.5" y1="466.7" x2="582.5" y2="612.3" stroke="#161616" stroke-width="1.3" stroke-linecap="butt"/>
<line x1="701.9" y1="466.7" x2="701.9" y2="612.3" stroke="#161616" stroke-width="1.3" stroke-linecap="butt"/>
<line x1="582.5" y1="612.3" x2="701.9" y2="612.3" stroke="#161616" stroke-width="1.1" stroke-linecap="butt"/>
<line x1="584.0" y1="610.6" x2="700.0" y2="610.6" stroke="#161616" stroke-width="0.8" stroke-dasharray="4,2" stroke-linecap="butt"/>
<path d="M582.5,520.3 A59.7,59.7 0 0 0 701.9,520.3" stroke="#161616" stroke-width="1.3" fill="none" />
<path d="M590.2,469.5 L590.2,520.3 A52.2,52.2 0 0 0 694.6,520.3 L694.6,469.5" stroke="#161616" stroke-width="1.1" fill="none" />
<path d="M592.6,469.5 L592.6,520.3 A49.8,49.8 0 0 0 692.2,520.3 L692.2,469.5" stroke="#161616" stroke-width="1.1" fill="none" />
<line x1="582.5" y1="469.3" x2="592.6" y2="469.3" stroke="#161616" stroke-width="1.0" stroke-linecap="butt"/>
<line x1="692.2" y1="469.3" x2="701.9" y2="469.3" stroke="#161616" stroke-width="1.0" stroke-linecap="butt"/>
<circle cx="642.4" cy="520.3" r="46.8" fill="none" stroke="#161616" stroke-width="1.2"/>
<circle cx="642.4" cy="520.3" r="9.8" fill="none" stroke="#161616" stroke-width="1.3"/>
<line x1="622.7" y1="477.7" x2="638.7" y2="511.6" stroke="#161616" stroke-width="2.2" stroke-linecap="butt"/>
<line x1="570.8" y1="520.3" x2="713.6" y2="520.3" stroke="#161616" stroke-width="0.8" stroke-dasharray="12,3,2,3" stroke-linecap="butt"/>
<line x1="642.4" y1="450.8" x2="642.4" y2="624.0" stroke="#161616" stroke-width="0.8" stroke-dasharray="12,3,2,3" stroke-linecap="butt"/>
<line x1="555.5" y1="466.7" x2="582.5" y2="466.7" stroke="#161616" stroke-width="1.0" stroke-linecap="butt"/>
<line x1="555.5" y1="612.9" x2="582.5" y2="612.9" stroke="#161616" stroke-width="1.0" stroke-linecap="butt"/>
<line x1="561.9" y1="466.7" x2="561.9" y2="612.9" stroke="#161616" stroke-width="1.0" stroke-linecap="butt"/>
<polygon points="561.9,466.7 564.2,476.7 559.6,476.7" fill="#161616"/>
<polygon points="561.9,520.3 559.6,510.3 564.2,510.3" fill="#161616"/>
<polygon points="561.9,520.3 564.2,530.3 559.6,530.3" fill="#161616"/>
<polygon points="561.9,612.9 559.6,602.9 564.2,602.9" fill="#161616"/>
<text x="560.5" y="494" transform="rotate(-90 560.5 494)" style="font-family:'Liberation Sans';font-size:11px;font-style:italic;font-weight:normal" fill="#161616" stroke="#161616" stroke-width="0.2">a</text>
<text x="560.3" y="570.5" transform="rotate(-90 560.3 570.5)" style="font-family:'Liberation Sans';font-size:10.5px;font-style:normal;font-weight:normal" fill="#161616" stroke="#161616" stroke-width="0.2">H</text>
<text x="613" y="441.6" textLength="49.5" lengthAdjust="spacing" style="font-family:'Liberation Serif';font-size:10.4px;font-style:italic" fill="#161616" stroke="#161616" stroke-width="0.15">Coupe A·A</text>
<line x1="746" y1="421.3" x2="751" y2="421.8" stroke="#555" stroke-width="0.9"/>
<line x1="744.5" y1="722.4" x2="750" y2="722.4" stroke="#555" stroke-width="0.9"/>
</svg>
</body></html>
